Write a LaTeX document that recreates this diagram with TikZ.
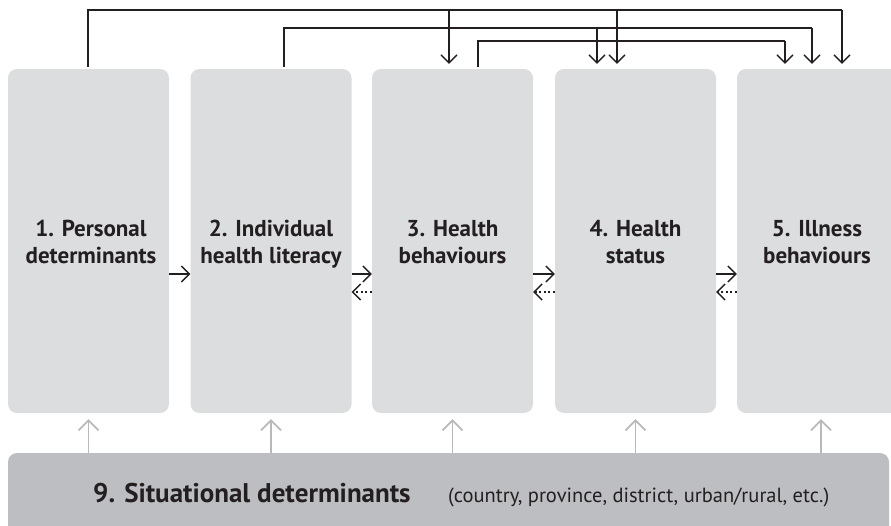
\documentclass[tikz,border=0pt]{standalone}
\usepackage{fontspec}
\setmainfont{PT Sans}
\usetikzlibrary{arrows.meta}
\definecolor{boxgray}{HTML}{DCDDDF}
\definecolor{bargray}{HTML}{BDBEC1}
\definecolor{upgray}{HTML}{B8B9BC}
\definecolor{ink}{HTML}{231F20}
\tikzset{
  stagebox/.style={fill=boxgray, draw=none, rounded corners=9pt, minimum width=161pt, minimum height=344pt, inner sep=0pt},
  stagetext/.style={align=center, text=ink, inner sep=0pt, font=\fontsize{23}{27}\selectfont\bfseries},
  link/.style={draw=ink, line width=1.3pt, -{Straight Barb[length=8pt,width=16pt,line width=1.3pt]}},
  backlink/.style={link, dash pattern=on 2pt off 2.5pt},
  plainline/.style={draw=ink, line width=1.3pt},
  uplink/.style={draw=upgray, line width=1.7pt, -{Straight Barb[length=10pt,width=20pt,line width=1.7pt]}},
}
\begin{document}
\begin{tikzpicture}[x=1pt, y=-1pt]
\useasboundingbox (0,0) rectangle (891,525);
\clip (0,0) rectangle (891,525);
% stage boxes
\node[stagebox] (b1) at (88.5,241) {};
\node[stagebox] (b2) at (271,241) {};
\node[stagebox] (b3) at (452.5,241) {};
\node[stagebox] (b4) at (635.5,241) {};
\node[stagebox, minimum width=168pt] (b5) at (821,241) {};
\node[stagetext] (t1) at (91,245) {\strut1. Personal\\determinants\strut};
\node[stagetext] (t2) at (271,245) {\strut2. Individual\\health literacy\strut};
\node[stagetext] (t3) at (452.5,245) {\strut3. Health\\behaviours\strut};
\node[stagetext] (t4) at (635.5,245) {\strut4. Health\\status\strut};
\node[stagetext] (t5) at (817,245) {\strut5. Illness\\behaviours\strut};
% situational bar
\node[fill=bargray, rounded corners=9pt, minimum width=881pt, minimum height=90pt, inner sep=0pt] (bar) at (448.5,498) {};
\node[anchor=base west, inner sep=0pt, text=ink, font=\fontsize{27}{30}\selectfont\bfseries] (s9) at (93,502) {9. Situational determinants};
\node[anchor=base west, inner sep=0pt, text=ink, font=\fontsize{20.5}{24}\selectfont] (s9b) at (448,502) {(country, province, district, urban/rural, etc.)};
% upward arrows from bar
\draw[uplink] (b1.south |- bar.north) -- ([yshift=-6pt]b1.south);
\draw[uplink] (b2.south |- bar.north) -- ([yshift=-6pt]b2.south);
\draw[uplink] (b3.south |- bar.north) -- ([yshift=-6pt]b3.south);
\draw[uplink] (b4.south |- bar.north) -- ([yshift=-6pt]b4.south);
\draw[uplink] (b5.south |- bar.north) -- ([yshift=-6pt]b5.south);
% horizontal links
\draw[link] ([yshift=-33pt]b1.east) -- ([yshift=-33pt]b2.west);
\draw[link] ([yshift=-33pt]b2.east) -- ([yshift=-33pt]b3.west);
\draw[link] ([yshift=-33pt]b3.east) -- ([yshift=-33pt]b4.west);
\draw[link] ([yshift=-33pt]b4.east) -- ([yshift=-33pt]b5.west);
\draw[backlink] ([yshift=-51pt]b3.west) -- ([yshift=-51pt]b2.east);
\draw[backlink] ([yshift=-51pt]b4.west) -- ([yshift=-51pt]b3.east);
\draw[backlink] ([yshift=-51pt]b5.west) -- ([yshift=-51pt]b4.east);
% top feedback lines
\coordinate (la) at (0,10);
\coordinate (lb) at (0,28);
\coordinate (lc) at (0,41);
% line A from box 1
\draw[plainline] ([xshift=-0.5pt,yshift=2pt]b1.north) |- ([xshift=21pt]b5.north |- la);
\draw[link] ([xshift=21pt]b5.north |- la) -- ([xshift=21pt,yshift=5pt]b5.north);
\draw[link] ([xshift=-3.5pt]b3.north |- la) -- ([xshift=-3.5pt,yshift=5pt]b3.north);
\draw[link] ([xshift=-18.5pt]b4.north |- la) -- ([xshift=-18.5pt,yshift=5pt]b4.north);
% line B from box 2
\draw[plainline] ([xshift=13pt,yshift=2pt]b2.north) |- ([xshift=-9pt]b5.north |- lb);
\draw[link] ([xshift=-9pt]b5.north |- lb) -- ([xshift=-9pt,yshift=5pt]b5.north);
\draw[link] ([xshift=-38.5pt]b4.north |- lb) -- ([xshift=-38.5pt,yshift=5pt]b4.north);
% line C from box 3
\draw[plainline] ([xshift=25.5pt,yshift=2pt]b3.north) |- ([xshift=-36pt]b5.north |- lc);
\draw[link] ([xshift=-36pt]b5.north |- lc) -- ([xshift=-36pt,yshift=5pt]b5.north);
\end{tikzpicture}
\end{document}
